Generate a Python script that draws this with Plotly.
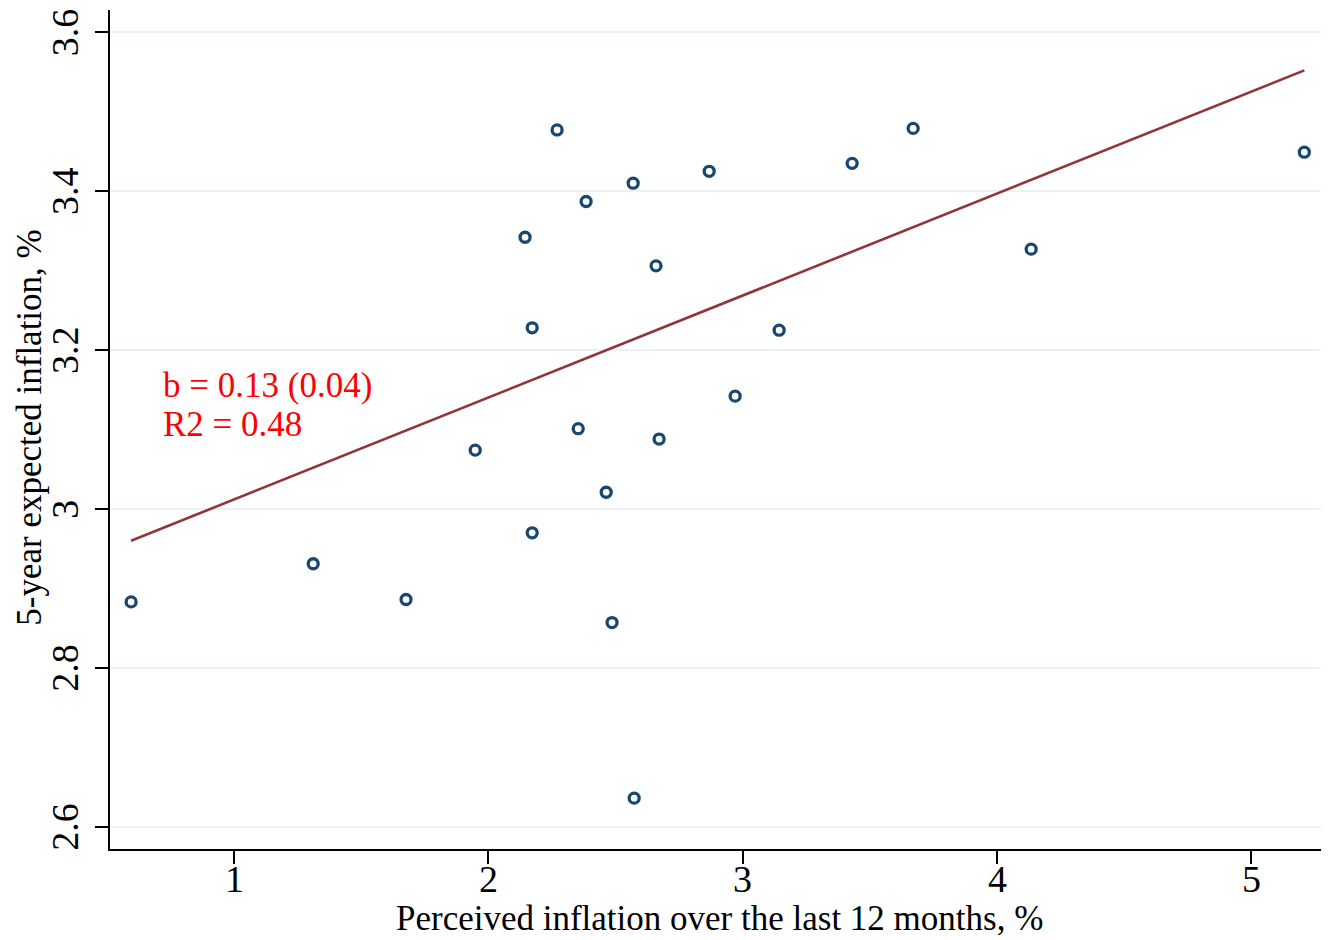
import plotly.graph_objects as go

perceived = [0.595, 1.311, 1.676, 1.948, 2.144, 2.172, 2.172, 2.270, 2.353, 2.384,
             2.463, 2.486, 2.569, 2.573, 2.659, 2.671, 2.868, 2.970, 3.143, 3.430,
             3.670, 4.134, 5.208]
expected = [2.883, 2.931, 2.886, 3.074, 3.342, 3.228, 2.970, 3.477, 3.101, 3.387,
            3.021, 2.857, 3.410, 2.636, 3.306, 3.088, 3.425, 3.142, 3.225, 3.435,
            3.479, 3.327, 3.449]
fit_x = [0.595, 5.208]
fit_y = [2.960, 3.552]

x_ticks = [1, 2, 3, 4, 5]
x_tick_text = ["1", "2", "3", "4", "5"]
y_ticks = [2.6, 2.8, 3.0, 3.2, 3.4, 3.6]
y_tick_text = ["2.6", "2.8", "3", "3.2", "3.4", "3.6"]

FONT = "Liberation Serif"

fig = go.Figure()
fig.add_trace(go.Scatter(
    x=perceived, y=expected, mode="markers",
    marker=dict(symbol="circle-open", size=10, color="#1a476f",
                line=dict(width=3.3, color="#1a476f")),
    showlegend=False, hoverinfo="x+y"))
fig.add_trace(go.Scatter(
    x=fit_x, y=fit_y, mode="lines",
    line=dict(color="#90353b", width=2.6),
    showlegend=False))

for txt, yv in [("b = 0.13 (0.04)", 3.156), ("R2 = 0.48", 3.106)]:
    fig.add_annotation(x=0.714, y=yv, xref="x", yref="y", xanchor="left", yanchor="middle",
                       text=txt, showarrow=False, align="left",
                       font=dict(family=FONT, size=35, color="#ff0000"))

# tick labels placed on the axes' own scales
for v, t in zip(x_ticks, x_tick_text):
    fig.add_annotation(x=v, y=-0.036, xref="x", yref="paper",
                       xanchor="center", yanchor="middle", showarrow=False,
                       text=t, font=dict(family=FONT, size=38, color="black"))
for v, t in zip(y_ticks, y_tick_text):
    fig.add_annotation(x=-0.037, y=v, xref="paper", yref="y",
                       xanchor="center", yanchor="middle", showarrow=False,
                       textangle=-90, text=t,
                       font=dict(family=FONT, size=38, color="black"))

fig.add_annotation(x=0.5, y=-0.0834, xref="paper", yref="paper",
                   xanchor="center", yanchor="middle", showarrow=False,
                   text="Perceived inflation over the last 12 months, %",
                   font=dict(family=FONT, size=35, color="black"))
fig.add_annotation(x=-0.0657, y=0.502, xref="paper", yref="paper",
                   xanchor="center", yanchor="middle", showarrow=False, textangle=-90,
                   text="5-year expected inflation, %",
                   font=dict(family=FONT, size=35, color="black"))

fig.update_layout(
    width=1321, height=932,
    margin=dict(l=102, r=0, t=2, b=91),
    paper_bgcolor="white", plot_bgcolor="white",
    font=dict(family=FONT, color="black"),
    xaxis=dict(
        range=[0.512, 5.305], tickvals=x_ticks, showticklabels=False,
        showgrid=False, zeroline=False,
        showline=True, linecolor="black", linewidth=2,
        ticks="outside", ticklen=13, tickwidth=2, tickcolor="black",
        automargin=False,
    ),
    yaxis=dict(
        range=[2.572, 3.628], tickvals=y_ticks, showticklabels=False,
        showgrid=True, gridcolor="#eaf2f3", gridwidth=2, zeroline=False,
        showline=True, linecolor="black", linewidth=2,
        ticks="outside", ticklen=13, tickwidth=2, tickcolor="black",
        automargin=False,
    ),
)

fig.write_html("out.html")
